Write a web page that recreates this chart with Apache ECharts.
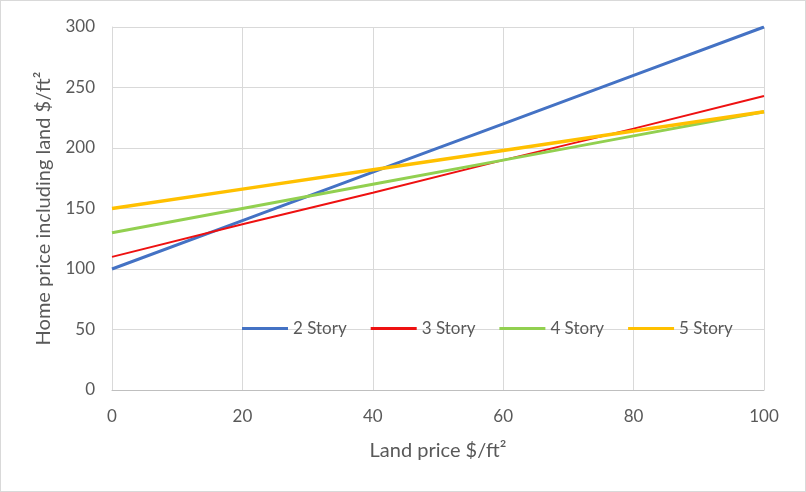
<!DOCTYPE html>
<html><head><meta charset="utf-8">
<script src="https://cdn.jsdelivr.net/npm/echarts@6/dist/echarts.min.js"></script>
<style>html,body{margin:0;padding:0;background:#fff}#c{position:absolute;left:0;top:0;width:804px;height:490px;border:1px solid #d9d9d9}</style>
</head><body><div id="c"></div>
<script>
const landPrice = [0, 20, 40, 60, 80, 100];
const story2 = [100, 140, 180, 220, 260, 300];
const story3 = [110, 137, 163, 190, 216, 243];
const story4 = [130, 150, 170, 190, 210, 230];
const story5 = [150, 166, 182, 198, 214, 230];
const seriesNames = ['2 Story', '3 Story', '4 Story', '5 Story'];

const chart = echarts.init(document.getElementById('c'));
const font = 'Lato, "Open Sans", sans-serif';
function mk(name, vals, color, width) {
  return { name, type: 'line', symbol: 'none', data: landPrice.map((x, i) => [x, vals[i]]),
    lineStyle: { color, width }, itemStyle: { color }, z: 3 };
}
chart.setOption({
  animation: false,
  textStyle: { fontFamily: font },
  grid: { left: 111, right: 41, top: 26, bottom: 101 },
  legend: {
    data: seriesNames, left: 236, top: 314, icon: 'rect', itemWidth: 46, itemHeight: 3, itemGap: 24,
    textStyle: { color: '#595959', fontSize: 17, fontFamily: font }
  },
  xAxis: {
    type: 'value', min: 0, max: 100, interval: 20,
    name: 'Land price $/ft²', nameLocation: 'middle', nameGap: 51,
    nameTextStyle: { color: '#595959', fontSize: 20, fontFamily: font },
    axisLine: { show: true, lineStyle: { color: '#bfbfbf', width: 1 } },
    axisTick: { show: false },
    axisLabel: { color: '#595959', fontSize: 17, margin: 18 },
    splitLine: { show: true, lineStyle: { color: '#d9d9d9', width: 1 } }
  },
  yAxis: {
    type: 'value', min: 0, max: 300, interval: 50,
    name: 'Home price including land $/ft²', nameLocation: 'middle', nameGap: 58,
    nameTextStyle: { color: '#595959', fontSize: 20, fontFamily: font },
    axisLine: { show: true, lineStyle: { color: '#d9d9d9' } },
    axisTick: { show: false },
    axisLabel: { color: '#595959', fontSize: 17, margin: 17 },
    splitLine: { show: true, lineStyle: { color: '#d9d9d9', width: 1 } }
  },
  series: [
    mk('2 Story', story2, '#4472C4', 3),
    mk('3 Story', story3, '#EE1111', 2),
    mk('4 Story', story4, '#92D050', 3),
    mk('5 Story', story5, '#FFC000', 3.5)
  ]
});
</script></body></html>
